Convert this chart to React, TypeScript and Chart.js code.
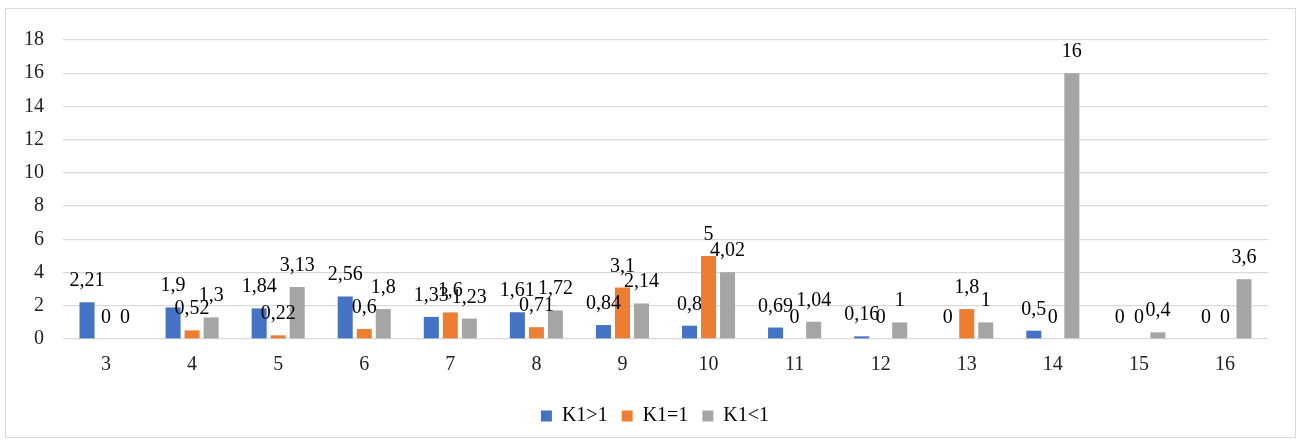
import React, { useEffect, useRef } from "react";
import { Chart, registerables } from "chart.js";

Chart.register(...registerables);

const categories = ["3", "4", "5", "6", "7", "8", "9", "10", "11", "12", "13", "14", "15", "16"];
const seriesNames = ["K1>1", "K1=1", "K1<1"];
const kGreater = [2.21, 1.9, 1.84, 2.56, 1.33, 1.61, 0.84, 0.8, 0.69, 0.16, 0, 0.5, 0, 0];
const kEqual = [0, 0.52, 0.22, 0.6, 1.6, 0.71, 3.1, 5, 0, 0, 1.8, 0, 0, 0];
const kLess = [0, 1.3, 3.13, 1.8, 1.23, 1.72, 2.14, 4.02, 1.04, 1, 1, 16, 0.4, 3.6];
const colors = ["#4472C4", "#ED7D31", "#A5A5A5"];

const FONT = "'Liberation Serif', 'Times New Roman', serif";

const valueLabels = {
  id: "valueLabels",
  afterLayout(chart: any) {
    if (chart.legend) {
      chart.legend.left += 18;
      chart.legend.right += 18;
    }
  },
  afterDatasetsDraw(chart: any) {
    const ctx = chart.ctx;
    ctx.save();
    ctx.font = `20px ${FONT}`;
    ctx.fillStyle = "#000";
    ctx.textAlign = "center";
    ctx.textBaseline = "alphabetic";
    chart.data.datasets.forEach((ds: any, i: number) => {
      const meta = chart.getDatasetMeta(i);
      meta.data.forEach((el: any, j: number) => {
        const v = ds.data[j];
        const txt = String(v).replace(".", ",");
        ctx.fillText(txt, el.x, el.y - 16);
      });
    });
    ctx.restore();
  },
};

export default function App() {
  const ref = useRef<HTMLCanvasElement>(null);
  useEffect(() => {
    if (!ref.current) return;
    const chart = new Chart(ref.current, {
      type: "bar",
      data: {
        labels: categories,
        datasets: [kGreater, kEqual, kLess].map((d, i) => ({
          label: seriesNames[i],
          data: d,
          backgroundColor: colors[i],
          borderWidth: 0,
          categoryPercentage: 0.663,
          barPercentage: 0.79,
        })),
      },
      options: {
        animation: false,
        responsive: false,
        maintainAspectRatio: false,
        layout: { padding: { left: 0, right: 27, top: 22, bottom: 1 } },
        plugins: {
          legend: {
            position: "bottom",
            labels: {
              boxWidth: 11,
              boxHeight: 11,
              padding: 14,
              color: "#000",
              font: { family: FONT, size: 20 },
            },
          },
          tooltip: { enabled: false },
        },
        scales: {
          x: {
            grid: { display: false },
            border: { display: false },
            ticks: { color: "#222", font: { family: FONT, size: 20 }, padding: 6 },
            afterFit: (s: any) => {
              s.height = 53;
            },
          },
          y: {
            min: 0,
            max: 18,
            ticks: { stepSize: 2, color: "#222", font: { family: FONT, size: 20 }, padding: 19 },
            grid: { color: "#d9d9d9", lineWidth: 1.3, drawTicks: false },
            border: { display: false },
            afterFit: (s: any) => {
              s.width = 57;
            },
          },
        },
      },
      plugins: [valueLabels],
    });
    return () => chart.destroy();
  }, []);
  return (
    <div
      style={{
        position: "fixed",
        left: 5,
        top: 8,
        width: 1291,
        height: 430,
        border: "1px solid #d9d9d9",
        boxSizing: "border-box",
        background: "#fff",
      }}
    >
      <canvas ref={ref} width={1289} height={428} style={{ display: "block" }} />
    </div>
  );
}
